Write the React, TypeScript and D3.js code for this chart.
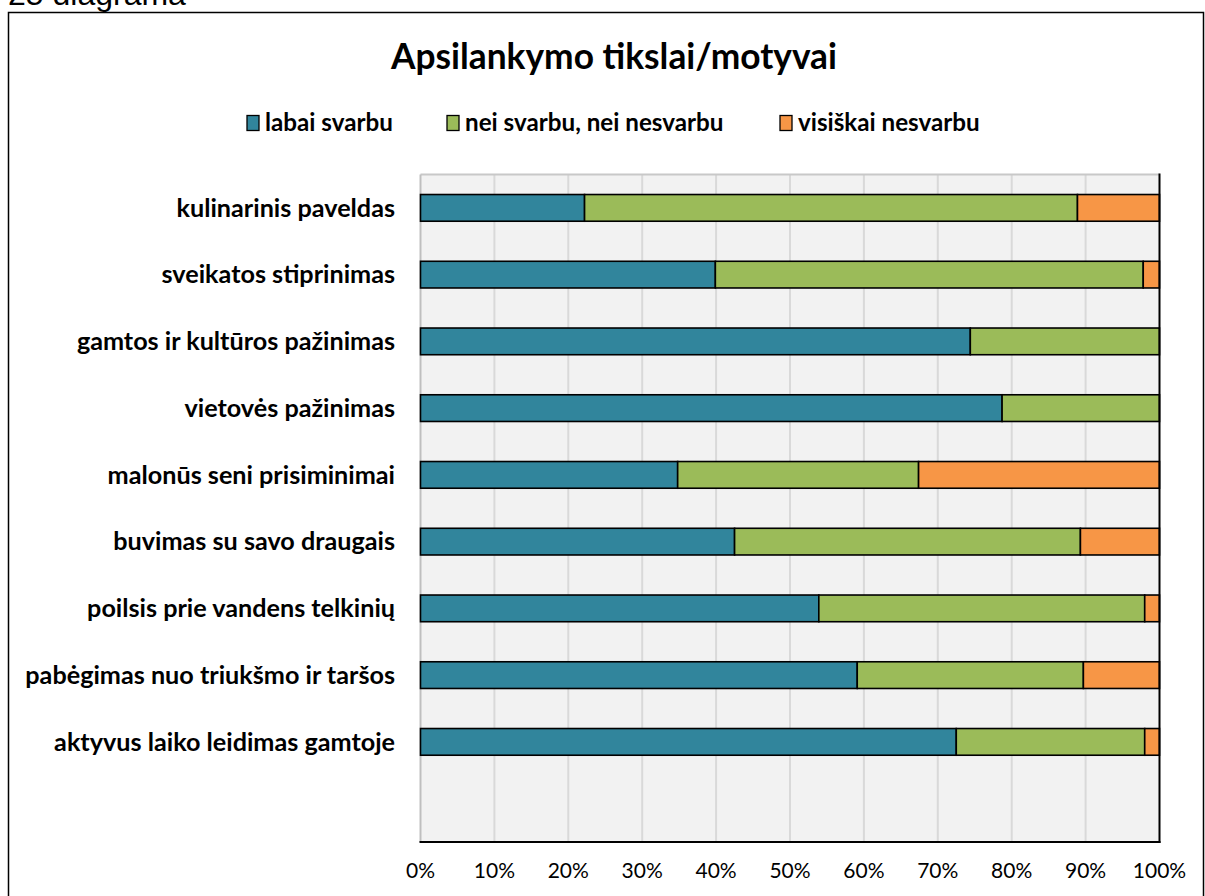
import React from "react";
import * as d3 from "d3";

const categories = [
  "kulinarinis paveldas",
  "sveikatos stiprinimas",
  "gamtos ir kultūros pažinimas",
  "vietovės pažinimas",
  "malonūs seni prisiminimai",
  "buvimas su savo draugais",
  "poilsis prie vandens telkinių",
  "pabėgimas nuo triukšmo ir taršos",
  "aktyvus laiko leidimas gamtoje",
];
const seriesNames = ["labai svarbu", "nei svarbu, nei nesvarbu", "visiškai nesvarbu"];
const labaiSvarbu = [22.2, 39.9, 74.4, 78.7, 34.8, 42.5, 53.9, 59.1, 72.5];
const neiSvarbu = [66.7, 57.9, 25.6, 21.3, 32.6, 46.8, 44.1, 30.6, 25.5];
const visiskaiNesvarbu = [11.1, 2.2, 0, 0, 32.6, 10.7, 2.0, 10.3, 2.0];
const ticks = [0, 10, 20, 30, 40, 50, 60, 70, 80, 90, 100];
const colors = ["#31859C", "#9BBB59", "#F79646"];

const W = 1205;
const H = 896;
const left = 420.5;
const right = 1159.5;
const top = 174.5;
const bottom = 842;
const font = "Lato, 'Open Sans', sans-serif";

export default function App() {
  const rows = categories.map((c, i) => ({
    cat: c,
    a: labaiSvarbu[i],
    b: neiSvarbu[i],
    c: visiskaiNesvarbu[i],
  }));
  const stacked = d3.stack<any>().keys(["a", "b", "c"])(rows);

  const x = d3.scaleLinear().domain([0, 100]).range([left, right]);
  // extra empty slot at the bottom, as in the original chart
  const y = d3
    .scaleBand()
    .domain([...categories, ""])
    .range([top, bottom])
    .paddingInner(0.6)
    .paddingOuter(0.3);

  const legendX = [247, 447, 780];

  return (
    <svg
      width={W}
      height={H}
      style={{ position: "absolute", left: 0, top: 0, background: "#fff" }}
    >
      <text x={8} y={5} fontFamily="'Liberation Sans', Arial, sans-serif" fontSize={32} fill="#000">
        25 diagrama
      </text>
      <rect x={8.5} y={12.5} width={1195} height={900} fill="#fff" stroke="#000" strokeWidth={1.5} />

      <text x={614} y={69} textAnchor="middle" fontFamily={font} fontWeight="bold" fontSize={35.3}>
        Apsilankymo tikslai/motyvai
      </text>

      {seriesNames.map((s, i) => (
        <g key={s}>
          <rect x={legendX[i]} y={115.5} width={12} height={15} fill={colors[i]} stroke="#000" strokeWidth={1.3} />
          <text x={legendX[i] + 18} y={131} fontFamily={font} fontWeight="bold" fontSize={24.2}>
            {s}
          </text>
        </g>
      ))}

      <rect x={left} y={top} width={right - left} height={bottom - top} fill="#F2F2F2" />
      {ticks.slice(1, -1).map((t) => (
        <line key={t} x1={x(t)} x2={x(t)} y1={top} y2={bottom} stroke="#D9D9D9" strokeWidth={2} />
      ))}
      <line x1={left} x2={right} y1={top} y2={top} stroke="#C8C8C8" strokeWidth={2} />
      <line x1={left} x2={left} y1={top} y2={bottom} stroke="#BFBFBF" strokeWidth={2} />

      {stacked.map((layer, si) => (
        <g key={si} fill={colors[si]}>
          {layer
            .filter((d) => d[1] - d[0] > 0)
            .map((d) => (
              <rect
                key={d.data.cat}
                x={x(d[0])}
                y={y(d.data.cat)}
                width={x(d[1]) - x(d[0])}
                height={y.bandwidth()}
                stroke="#000"
                strokeWidth={1.6}
              />
            ))}
        </g>
      ))}

      <line x1={right} x2={right} y1={top - 1} y2={bottom + 1} stroke="#000" strokeWidth={2} />
      <line x1={left - 1} x2={right + 1} y1={bottom} y2={bottom} stroke="#000" strokeWidth={2} />

      {categories.map((c) => (
        <text
          key={c}
          x={395}
          y={(y(c) as number) + y.bandwidth() / 2}
          dy="0.35em"
          textAnchor="end"
          fontFamily={font}
          fontWeight="bold"
          fontSize={25.2}
        >
          {c}
        </text>
      ))}

      {ticks.map((t) => (
        <text key={t} x={x(t)} y={878} textAnchor="middle" fontFamily={font} fontSize={21}>
          {t}%
        </text>
      ))}
    </svg>
  );
}
